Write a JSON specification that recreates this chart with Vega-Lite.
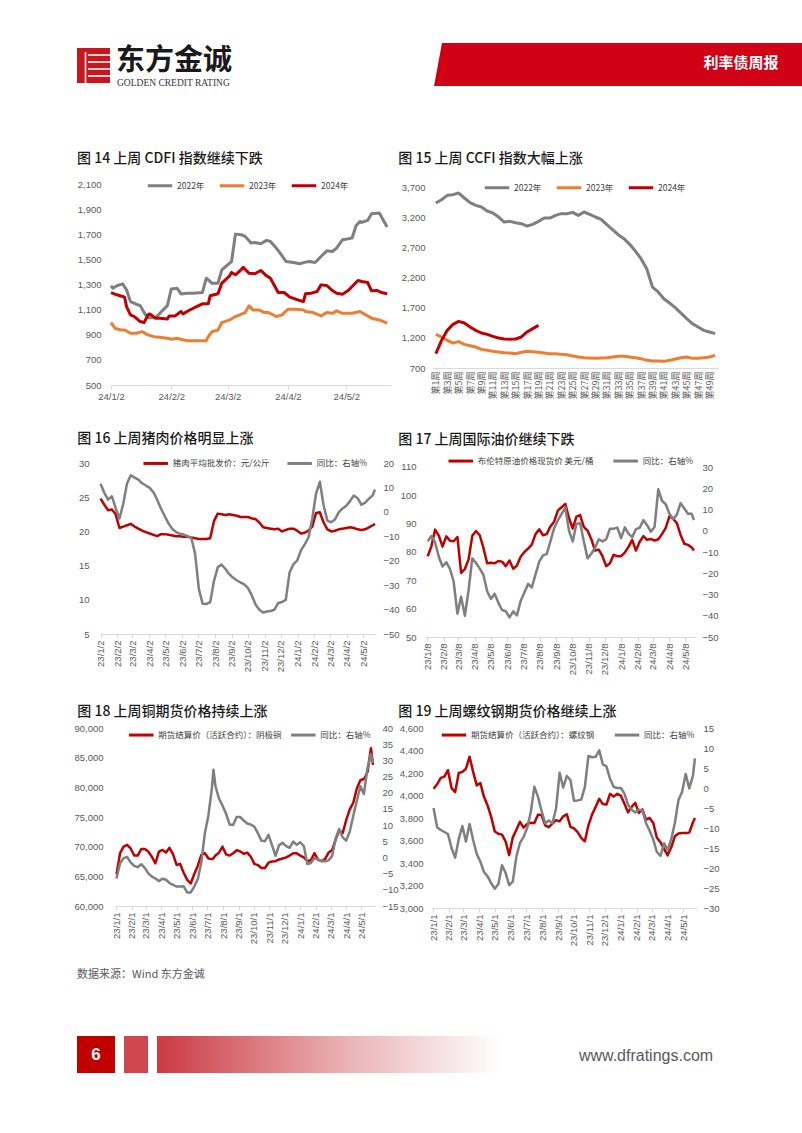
{
"$schema": "https://vega.github.io/schema/vega-lite/v6.json",
"padding": 0,
"background": "white",
"spacing": 0,
"resolve": {"scale": {"color": "independent"}, "legend": {"color": "independent"}},
"config": {
 "view": {"stroke": null},
 "axis": {"grid": false, "labelColor": "#595959", "labelFont": "Liberation Sans", "labelFontSize": 9.5, "domainColor": "#d9d9d9", "tickColor": "#d9d9d9", "labelOverlap": false, "labelFlush": false},
 "axisX": {"tickSize": 4},
 "axisY": {"domain": false, "ticks": false},
 "legend": {"orient": "none", "direction": "horizontal", "symbolType": "stroke", "symbolStrokeWidth": 3, "symbolSize": 600, "labelFontSize": 8.5, "labelFont": "Noto Sans CJK SC", "labelColor": "#404040", "labelOffset": 3, "padding": 0},
 "title": {"anchor": "start", "frame": "group", "fontSize": 14, "font": "Noto Sans CJK SC", "fontWeight": 500, "color": "#1a1a1a", "baseline": "bottom"},
 "line": {"strokeJoin": "round"}
},
"datasets": {
 "cdfi": [
  {"d":"2024-01-02","s":"2022年","v":1290},{"d":"2024-01-03","s":"2022年","v":1270},{"d":"2024-01-05","s":"2022年","v":1290},{"d":"2024-01-08","s":"2022年","v":1305},{"d":"2024-01-10","s":"2022年","v":1257},{"d":"2024-01-12","s":"2022年","v":1164},{"d":"2024-01-15","s":"2022年","v":1143},{"d":"2024-01-17","s":"2022年","v":1132},{"d":"2024-01-19","s":"2022年","v":1077},{"d":"2024-01-21","s":"2022年","v":1035},{"d":"2024-01-25","s":"2022年","v":1035},{"d":"2024-01-28","s":"2022年","v":1085},{"d":"2024-01-31","s":"2022年","v":1132},{"d":"2024-02-02","s":"2022年","v":1265},{"d":"2024-02-05","s":"2022年","v":1270},{"d":"2024-02-07","s":"2022年","v":1225},{"d":"2024-02-10","s":"2022年","v":1230},{"d":"2024-02-13","s":"2022年","v":1230},{"d":"2024-02-18","s":"2022年","v":1236},{"d":"2024-02-20","s":"2022年","v":1350},{"d":"2024-02-23","s":"2022年","v":1310},{"d":"2024-02-26","s":"2022年","v":1310},{"d":"2024-02-28","s":"2022年","v":1417},{"d":"2024-03-04","s":"2022年","v":1483},{"d":"2024-03-06","s":"2022年","v":1701},{"d":"2024-03-09","s":"2022年","v":1696},{"d":"2024-03-11","s":"2022年","v":1683},{"d":"2024-03-14","s":"2022年","v":1630},{"d":"2024-03-16","s":"2022年","v":1635},{"d":"2024-03-19","s":"2022年","v":1624},{"d":"2024-03-22","s":"2022年","v":1651},{"d":"2024-03-24","s":"2022年","v":1643},{"d":"2024-03-27","s":"2022年","v":1590},{"d":"2024-03-29","s":"2022年","v":1550},{"d":"2024-04-01","s":"2022年","v":1483},{"d":"2024-04-05","s":"2022年","v":1475},{"d":"2024-04-08","s":"2022年","v":1465},{"d":"2024-04-11","s":"2022年","v":1478},{"d":"2024-04-13","s":"2022年","v":1483},{"d":"2024-04-16","s":"2022年","v":1475},{"d":"2024-04-19","s":"2022年","v":1523},{"d":"2024-04-22","s":"2022年","v":1568},{"d":"2024-04-25","s":"2022年","v":1563},{"d":"2024-04-27","s":"2022年","v":1590},{"d":"2024-04-30","s":"2022年","v":1656},{"d":"2024-05-02","s":"2022年","v":1661},{"d":"2024-05-05","s":"2022年","v":1670},{"d":"2024-05-07","s":"2022年","v":1768},{"d":"2024-05-09","s":"2022年","v":1802},{"d":"2024-05-10","s":"2022年","v":1794},{"d":"2024-05-13","s":"2022年","v":1810},{"d":"2024-05-15","s":"2022年","v":1863},{"d":"2024-05-19","s":"2022年","v":1869},{"d":"2024-05-20","s":"2022年","v":1842},{"d":"2024-05-23","s":"2022年","v":1757},
  {"d":"2024-01-02","s":"2023年","v":997},{"d":"2024-01-04","s":"2023年","v":952},{"d":"2024-01-07","s":"2023年","v":938},{"d":"2024-01-09","s":"2023年","v":938},{"d":"2024-01-12","s":"2023年","v":912},{"d":"2024-01-15","s":"2023年","v":912},{"d":"2024-01-18","s":"2023年","v":925},{"d":"2024-01-21","s":"2023年","v":899},{"d":"2024-01-24","s":"2023年","v":885},{"d":"2024-01-27","s":"2023年","v":880},{"d":"2024-01-31","s":"2023年","v":872},{"d":"2024-02-02","s":"2023年","v":864},{"d":"2024-02-05","s":"2023年","v":872},{"d":"2024-02-07","s":"2023年","v":864},{"d":"2024-02-10","s":"2023年","v":853},{"d":"2024-02-15","s":"2023年","v":853},{"d":"2024-02-20","s":"2023年","v":853},{"d":"2024-02-21","s":"2023年","v":885},{"d":"2024-02-23","s":"2023年","v":925},{"d":"2024-02-26","s":"2023年","v":938},{"d":"2024-02-28","s":"2023年","v":997},{"d":"2024-03-03","s":"2023年","v":1018},{"d":"2024-03-06","s":"2023年","v":1045},{"d":"2024-03-10","s":"2023年","v":1071},{"d":"2024-03-11","s":"2023年","v":1077},{"d":"2024-03-13","s":"2023年","v":1130},{"d":"2024-03-15","s":"2023年","v":1098},{"d":"2024-03-18","s":"2023年","v":1098},{"d":"2024-03-21","s":"2023年","v":1077},{"d":"2024-03-23","s":"2023年","v":1077},{"d":"2024-03-27","s":"2023年","v":1045},{"d":"2024-03-30","s":"2023年","v":1058},{"d":"2024-04-02","s":"2023年","v":1103},{"d":"2024-04-06","s":"2023年","v":1103},{"d":"2024-04-10","s":"2023年","v":1098},{"d":"2024-04-11","s":"2023年","v":1085},{"d":"2024-04-15","s":"2023年","v":1077},{"d":"2024-04-19","s":"2023年","v":1050},{"d":"2024-04-22","s":"2023年","v":1077},{"d":"2024-04-25","s":"2023年","v":1071},{"d":"2024-04-27","s":"2023年","v":1090},{"d":"2024-04-30","s":"2023年","v":1071},{"d":"2024-05-05","s":"2023年","v":1071},{"d":"2024-05-09","s":"2023年","v":1085},{"d":"2024-05-12","s":"2023年","v":1058},{"d":"2024-05-15","s":"2023年","v":1032},{"d":"2024-05-19","s":"2023年","v":1018},{"d":"2024-05-23","s":"2023年","v":992},
  {"d":"2024-01-02","s":"2024年","v":1236},{"d":"2024-01-05","s":"2024年","v":1218},{"d":"2024-01-08","s":"2024年","v":1204},{"d":"2024-01-09","s":"2024年","v":1199},{"d":"2024-01-10","s":"2024年","v":1124},{"d":"2024-01-12","s":"2024年","v":1058},{"d":"2024-01-14","s":"2024年","v":1045},{"d":"2024-01-17","s":"2024年","v":1005},{"d":"2024-01-19","s":"2024年","v":997},{"d":"2024-01-21","s":"2024年","v":1058},{"d":"2024-01-22","s":"2024年","v":1066},{"d":"2024-01-25","s":"2024年","v":1032},{"d":"2024-01-27","s":"2024年","v":1032},{"d":"2024-01-31","s":"2024年","v":1026},{"d":"2024-02-01","s":"2024年","v":1050},{"d":"2024-02-04","s":"2024年","v":1050},{"d":"2024-02-07","s":"2024年","v":1085},{"d":"2024-02-08","s":"2024年","v":1066},{"d":"2024-02-11","s":"2024年","v":1093},{"d":"2024-02-15","s":"2024年","v":1124},{"d":"2024-02-18","s":"2024年","v":1146},{"d":"2024-02-21","s":"2024年","v":1146},{"d":"2024-02-22","s":"2024年","v":1210},{"d":"2024-02-26","s":"2024年","v":1226},{"d":"2024-02-28","s":"2024年","v":1311},{"d":"2024-03-03","s":"2024年","v":1369},{"d":"2024-03-04","s":"2024年","v":1396},{"d":"2024-03-06","s":"2024年","v":1377},{"d":"2024-03-08","s":"2024年","v":1404},{"d":"2024-03-10","s":"2024年","v":1436},{"d":"2024-03-13","s":"2024年","v":1390},{"d":"2024-03-16","s":"2024年","v":1385},{"d":"2024-03-19","s":"2024年","v":1412},{"d":"2024-03-22","s":"2024年","v":1369},{"d":"2024-03-24","s":"2024年","v":1350},{"d":"2024-03-28","s":"2024年","v":1236},{"d":"2024-03-31","s":"2024年","v":1236},{"d":"2024-04-03","s":"2024年","v":1199},{"d":"2024-04-06","s":"2024年","v":1183},{"d":"2024-04-10","s":"2024年","v":1164},{"d":"2024-04-11","s":"2024年","v":1226},{"d":"2024-04-14","s":"2024年","v":1231},{"d":"2024-04-17","s":"2024年","v":1244},{"d":"2024-04-19","s":"2024年","v":1297},{"d":"2024-04-22","s":"2024年","v":1292},{"d":"2024-04-25","s":"2024年","v":1250},{"d":"2024-04-27","s":"2024年","v":1231},{"d":"2024-04-30","s":"2024年","v":1223},{"d":"2024-05-03","s":"2024年","v":1252},{"d":"2024-05-05","s":"2024年","v":1284},{"d":"2024-05-08","s":"2024年","v":1332},{"d":"2024-05-10","s":"2024年","v":1324},{"d":"2024-05-13","s":"2024年","v":1316},{"d":"2024-05-15","s":"2024年","v":1250},{"d":"2024-05-18","s":"2024年","v":1252},{"d":"2024-05-20","s":"2024年","v":1236},{"d":"2024-05-23","s":"2024年","v":1226}
 ],
 "ccfi": [
  {"n":1,"w":"第1周","2022年":3435,"2023年":1258,"2024年":937},{"n":2,"w":"第2周","2022年":3490,"2023年":1214,"2024年":1158},{"n":3,"w":"第3周","2022年":3562,"2023年":1158,"2024年":1324},{"n":4,"w":"第4周","2022年":3573,"2023年":1114,"2024年":1424},{"n":5,"w":"第5周","2022年":3600,"2023年":1137,"2024年":1473},{"n":6,"w":"第6周","2022年":3518,"2023年":1092,"2024年":1446},{"n":7,"w":"第7周","2022年":3440,"2023年":1070,"2024年":1380},{"n":8,"w":"第8周","2022年":3396,"2023年":1048,"2024年":1324},{"n":9,"w":"第9周","2022年":3368,"2023年":1009,"2024年":1280},{"n":10,"w":"第10周","2022年":3302,"2023年":993,"2024年":1258},{"n":11,"w":"第11周","2022年":3269,"2023年":976,"2024年":1225},{"n":12,"w":"第12周","2022年":3203,"2023年":965,"2024年":1197},{"n":13,"w":"第13周","2022年":3120,"2023年":954,"2024年":1181},{"n":14,"w":"第14周","2022年":3131,"2023年":948,"2024年":1175},{"n":15,"w":"第15周","2022年":3109,"2023年":937,"2024年":1181},{"n":16,"w":"第16周","2022年":3092,"2023年":960,"2024年":1214},{"n":17,"w":"第17周","2022年":3053,"2023年":976,"2024年":1297},{"n":18,"w":"第18周","2022年":3081,"2023年":970,"2024年":1352},{"n":19,"w":"第19周","2022年":3131,"2023年":960,"2024年":1407},{"n":20,"w":"第20周","2022年":3186,"2023年":948},{"n":21,"w":"第21周","2022年":3186,"2023年":937},{"n":22,"w":"第22周","2022年":3230,"2023年":937},{"n":23,"w":"第23周","2022年":3258,"2023年":926},{"n":24,"w":"第24周","2022年":3258,"2023年":921},{"n":25,"w":"第25周","2022年":3280,"2023年":899},{"n":26,"w":"第26周","2022年":3230,"2023年":882},{"n":27,"w":"第27周","2022年":3286,"2023年":871},{"n":28,"w":"第28周","2022年":3247,"2023年":866},{"n":29,"w":"第29周","2022年":3203,"2023年":860},{"n":30,"w":"第30周","2022年":3164,"2023年":866},{"n":31,"w":"第31周","2022年":3076,"2023年":871},{"n":32,"w":"第32周","2022年":2993,"2023年":882},{"n":33,"w":"第33周","2022年":2910,"2023年":893},{"n":34,"w":"第34周","2022年":2844,"2023年":893},{"n":35,"w":"第35周","2022年":2750,"2023年":882},{"n":36,"w":"第36周","2022年":2639,"2023年":871},{"n":37,"w":"第37周","2022年":2512,"2023年":855},{"n":38,"w":"第38周","2022年":2346,"2023年":827},{"n":39,"w":"第39周","2022年":2042,"2023年":816},{"n":40,"w":"第40周","2022年":1960,"2023年":816},{"n":41,"w":"第41周","2022年":1849,"2023年":810},{"n":42,"w":"第42周","2022年":1777,"2023年":827},{"n":43,"w":"第43周","2022年":1700,"2023年":849},{"n":44,"w":"第44周","2022年":1611,"2023年":871},{"n":45,"w":"第45周","2022年":1518,"2023年":882},{"n":46,"w":"第46周","2022年":1435,"2023年":860},{"n":47,"w":"第47周","2022年":1380,"2023年":860},{"n":48,"w":"第48周","2022年":1324,"2023年":871},{"n":49,"w":"第49周","2022年":1297,"2023年":882},{"n":50,"w":"第50周","2022年":1269,"2023年":910}
 ],
 "daily": [
  {"d":"2023-01-02","pork":24.8,"porkYoy":11.5,"cu":65300,"cuYoy":-6.5,"rb":4060,"rbYoy":-5.0},
  {"d":"2023-01-09","pork":23.9,"porkYoy":7.8,"brent":78.5,"brentYoy":-5.0,"cu":68900,"cuYoy":-1.8,"rb":4100,"rbYoy":-9.8},
  {"d":"2023-01-16","pork":23.1,"porkYoy":5.0,"brent":82.0,"brentYoy":-2.5,"cu":70000,"cuYoy":-0.2,"rb":4157,"rbYoy":-10.5},
  {"d":"2023-01-23","pork":23.2,"porkYoy":6.4,"brent":87.9,"brentYoy":-5.4,"cu":70300,"cuYoy":0.2,"rb":4168,"rbYoy":-11.0},
  {"d":"2023-01-30","pork":22.5,"porkYoy":1.5,"brent":85.8,"brentYoy":-12.2,"cu":69700,"cuYoy":-1.5,"rb":4225,"rbYoy":-11.5},
  {"d":"2023-02-06","pork":20.5,"porkYoy":-2.7,"brent":81.9,"brentYoy":-16.8,"cu":68500,"cuYoy":-2.6,"rb":4066,"rbYoy":-15.0},
  {"d":"2023-02-13","pork":20.7,"porkYoy":3.2,"brent":85.5,"brentYoy":-14.8,"cu":68500,"cuYoy":-3.0,"rb":4030,"rbYoy":-17.4},
  {"d":"2023-02-20","pork":20.9,"porkYoy":11.6,"brent":84.0,"brentYoy":-18.0,"cu":69600,"cuYoy":-2.1,"rb":4200,"rbYoy":-12.8},
  {"d":"2023-02-27","pork":21.1,"porkYoy":15.0,"brent":83.8,"brentYoy":-24.0,"cu":69600,"cuYoy":-3.2,"rb":4210,"rbYoy":-9.5},
  {"d":"2023-03-06","pork":20.7,"porkYoy":14.0,"brent":85.3,"brentYoy":-39.0,"cu":69170,"cuYoy":-4.9,"rb":4238,"rbYoy":-13.4},
  {"d":"2023-03-13","pork":20.4,"porkYoy":13.2,"brent":72.6,"brentYoy":-31.0,"cu":68300,"cuYoy":-5.9,"rb":4345,"rbYoy":-9.0},
  {"d":"2023-03-20","pork":20.1,"porkYoy":11.7,"brent":74.0,"brentYoy":-40.0,"cu":67200,"cuYoy":-6.5,"rb":4210,"rbYoy":-13.0},
  {"d":"2023-03-27","pork":19.9,"porkYoy":10.8,"brent":77.4,"brentYoy":-28.0,"cu":69170,"cuYoy":-7.3,"rb":4090,"rbYoy":-16.5},
  {"d":"2023-04-03","pork":19.7,"porkYoy":9.8,"brent":85.7,"brentYoy":-13.0,"cu":69450,"cuYoy":-6.6,"rb":4110,"rbYoy":-18.4},
  {"d":"2023-04-10","pork":19.5,"porkYoy":8.0,"brent":87.4,"brentYoy":-15.2,"cu":69000,"cuYoy":-6.9,"rb":3988,"rbYoy":-21.0},
  {"d":"2023-04-17","pork":19.3,"porkYoy":4.9,"brent":85.9,"brentYoy":-17.8,"cu":69800,"cuYoy":-7.9,"rb":3912,"rbYoy":-22.1},
  {"d":"2023-04-24","pork":19.6,"porkYoy":1.3,"brent":81.4,"brentYoy":-20.8,"cu":68700,"cuYoy":-8.5,"rb":3810,"rbYoy":-23.8},
  {"d":"2023-05-01","pork":19.6,"porkYoy":-1.8,"brent":76.0,"brentYoy":-28.5,"cu":66920,"cuYoy":-9.0,"rb":3680,"rbYoy":-25.2},
  {"d":"2023-05-08","pork":19.5,"porkYoy":-4.8,"brent":76.2,"brentYoy":-32.1,"cu":67100,"cuYoy":-9.0,"rb":3660,"rbYoy":-24.0},
  {"d":"2023-05-15","pork":19.4,"porkYoy":-7.0,"brent":76.0,"brentYoy":-29.6,"cu":65600,"cuYoy":-8.9,"rb":3652,"rbYoy":-19.3},
  {"d":"2023-05-22","pork":19.3,"porkYoy":-8.3,"brent":76.8,"brentYoy":-33.8,"cu":64400,"cuYoy":-10.8,"rb":3593,"rbYoy":-21.2},
  {"d":"2023-05-29","pork":19.3,"porkYoy":-9.0,"brent":76.6,"brentYoy":-37.3,"cu":63800,"cuYoy":-10.8,"rb":3470,"rbYoy":-24.3},
  {"d":"2023-06-05","pork":19.2,"porkYoy":-9.3,"brent":75.0,"brentYoy":-37.8,"cu":65400,"cuYoy":-9.0,"rb":3628,"rbYoy":-23.4},
  {"d":"2023-06-12","pork":19.2,"porkYoy":-9.9,"brent":77.0,"brentYoy":-40.8,"cu":66800,"cuYoy":-6.7,"rb":3695,"rbYoy":-17.1},
  {"d":"2023-06-19","pork":19.1,"porkYoy":-10.6,"brent":74.1,"brentYoy":-37.9,"cu":68600,"cuYoy":-1.5,"rb":3766,"rbYoy":-13.7},
  {"d":"2023-06-26","pork":19.0,"porkYoy":-17.0,"brent":75.2,"brentYoy":-39.8,"cu":68900,"cuYoy":7.5,"rb":3715,"rbYoy":-12.2},
  {"d":"2023-07-03","pork":18.9,"porkYoy":-31.5,"brent":78.3,"brentYoy":-33.0,"cu":68000,"cuYoy":13.0,"rb":3748,"rbYoy":-10.0},
  {"d":"2023-07-10","pork":18.9,"porkYoy":-37.6,"brent":80.0,"brentYoy":-29.0,"cu":67900,"cuYoy":21.5,"rb":3757,"rbYoy":-6.0},
  {"d":"2023-07-13","cu":68050,"cuYoy":27.1},
  {"d":"2023-07-17","pork":18.9,"porkYoy":-37.7,"brent":81.2,"brentYoy":-25.0,"cu":68500,"cuYoy":22.0,"rb":3755,"rbYoy":0.3},
  {"d":"2023-07-24","pork":19.0,"porkYoy":-37.0,"brent":82.6,"brentYoy":-26.7,"cu":69000,"cuYoy":18.2,"rb":3830,"rbYoy":-2.2},
  {"d":"2023-07-31","pork":21.5,"porkYoy":-28.3,"brent":86.3,"brentYoy":-20.5,"cu":70000,"cuYoy":16.0,"rb":3826,"rbYoy":-5.8},
  {"d":"2023-08-07","pork":22.6,"porkYoy":-22.7,"brent":88.0,"brentYoy":-14.5,"cu":68700,"cuYoy":13.5,"rb":3735,"rbYoy":-8.8},
  {"d":"2023-08-14","pork":22.5,"porkYoy":-21.6,"brent":85.9,"brentYoy":-11.6,"cu":68500,"cuYoy":10.2,"rb":3718,"rbYoy":-8.1},
  {"d":"2023-08-21","pork":22.4,"porkYoy":-23.3,"brent":86.3,"brentYoy":-11.0,"cu":68900,"cuYoy":10.0,"rb":3750,"rbYoy":-8.8},
  {"d":"2023-08-28","pork":22.5,"porkYoy":-25.4,"brent":89.0,"brentYoy":-5.0,"cu":69400,"cuYoy":12.5,"rb":3781,"rbYoy":-5.2},
  {"d":"2023-09-04","pork":22.4,"porkYoy":-26.9,"brent":90.7,"brentYoy":1.2,"cu":69200,"cuYoy":12.5,"rb":3770,"rbYoy":3.8},
  {"d":"2023-09-11","pork":22.3,"porkYoy":-28.0,"brent":94.6,"brentYoy":4.9,"cu":68800,"cuYoy":11.4,"rb":3815,"rbYoy":0.1},
  {"d":"2023-09-18","pork":22.1,"porkYoy":-28.9,"brent":95.8,"brentYoy":7.8,"cu":69000,"cuYoy":10.5,"rb":3832,"rbYoy":3.0},
  {"d":"2023-09-25","pork":22.1,"porkYoy":-29.7,"brent":97.0,"brentYoy":11.0,"cu":68300,"cuYoy":10.2,"rb":3722,"rbYoy":2.0},
  {"d":"2023-10-02","pork":22.1,"porkYoy":-31.2,"brent":92.0,"brentYoy":0.0,"cu":67100,"cuYoy":9.5,"rb":3707,"rbYoy":-3.2},
  {"d":"2023-10-09","pork":21.9,"porkYoy":-34.2,"brent":88.3,"brentYoy":-5.0,"cu":66900,"cuYoy":7.5,"rb":3675,"rbYoy":-3.1},
  {"d":"2023-10-16","pork":21.8,"porkYoy":-37.9,"brent":92.5,"brentYoy":3.3,"cu":66400,"cuYoy":5.2,"rb":3624,"rbYoy":-2.9},
  {"d":"2023-10-23","pork":21.3,"porkYoy":-40.1,"brent":93.0,"brentYoy":3.5,"cu":66400,"cuYoy":5.0,"rb":3593,"rbYoy":0.2},
  {"d":"2023-10-30","pork":20.6,"porkYoy":-41.2,"brent":88.8,"brentYoy":-5.0,"cu":67300,"cuYoy":7.0,"rb":3735,"rbYoy":8.0},
  {"d":"2023-11-06","pork":20.5,"porkYoy":-40.8,"brent":87.5,"brentYoy":-13.0,"cu":67500,"cuYoy":3.8,"rb":3830,"rbYoy":7.7},
  {"d":"2023-11-13","pork":20.4,"porkYoy":-40.6,"brent":84.5,"brentYoy":-10.8,"cu":67550,"cuYoy":0.5,"rb":3900,"rbYoy":7.8},
  {"d":"2023-11-20","pork":20.3,"porkYoy":-40.0,"brent":80.5,"brentYoy":-8.0,"cu":67850,"cuYoy":3.8,"rb":3970,"rbYoy":9.4},
  {"d":"2023-11-27","pork":20.4,"porkYoy":-37.3,"brent":80.8,"brentYoy":-4.0,"cu":68000,"cuYoy":4.5,"rb":3925,"rbYoy":5.9},
  {"d":"2023-12-04","pork":20.0,"porkYoy":-36.9,"brent":78.5,"brentYoy":-5.0,"cu":68200,"cuYoy":3.5,"rb":3919,"rbYoy":5.4},
  {"d":"2023-12-11","pork":20.2,"porkYoy":-36.0,"brent":75.0,"brentYoy":-4.0,"cu":68500,"cuYoy":3.0,"rb":4015,"rbYoy":2.3},
  {"d":"2023-12-18","pork":20.4,"porkYoy":-24.8,"brent":76.0,"brentYoy":1.0,"cu":68880,"cuYoy":4.9,"rb":3990,"rbYoy":0.3},
  {"d":"2023-12-25","pork":20.4,"porkYoy":-21.5,"brent":79.0,"brentYoy":1.0,"cu":68870,"cuYoy":3.9,"rb":4015,"rbYoy":0.0},
  {"d":"2024-01-01","pork":20.1,"porkYoy":-20.0,"brent":78.5,"brentYoy":1.5,"cu":68500,"cuYoy":4.7,"rb":3998,"rbYoy":0.0},
  {"d":"2024-01-08","pork":19.7,"porkYoy":-15.8,"brent":78.5,"brentYoy":-3.5,"cu":68200,"cuYoy":3.5,"rb":3927,"rbYoy":-1.4},
  {"d":"2024-01-15","pork":19.8,"porkYoy":-13.3,"brent":79.8,"brentYoy":1.6,"cu":67600,"cuYoy":-2.0,"rb":3850,"rbYoy":-4.2},
  {"d":"2024-01-22","pork":20.1,"porkYoy":-10.5,"brent":81.8,"brentYoy":-1.3,"cu":67700,"cuYoy":-1.7,"rb":3900,"rbYoy":-5.4},
  {"d":"2024-01-29","pork":20.7,"porkYoy":-2.7,"brent":84.3,"brentYoy":-3.0,"cu":68900,"cuYoy":-0.2,"rb":3935,"rbYoy":-6.1},
  {"d":"2024-02-05","pork":22.7,"porkYoy":7.5,"brent":80.5,"brentYoy":0.8,"cu":67800,"cuYoy":-0.6,"rb":3845,"rbYoy":-5.4},
  {"d":"2024-02-12","pork":22.8,"porkYoy":12.3,"brent":83.6,"brentYoy":1.4,"cu":67550,"cuYoy":-1.1,"rb":3877,"rbYoy":-5.6},
  {"d":"2024-02-19","pork":21.3,"porkYoy":2.6,"brent":85.6,"brentYoy":5.0,"cu":67900,"cuYoy":-1.2,"rb":3785,"rbYoy":-8.8},
  {"d":"2024-02-26","pork":20.3,"porkYoy":-3.6,"brent":84.3,"brentYoy":2.6,"cu":69000,"cuYoy":-0.9,"rb":3800,"rbYoy":-10.7},
  {"d":"2024-03-04","pork":20.0,"porkYoy":-4.3,"brent":84.6,"brentYoy":-0.4,"cu":69400,"cuYoy":0.4,"rb":3755,"rbYoy":-12.9},
  {"d":"2024-03-11","pork":20.1,"porkYoy":-3.1,"brent":84.0,"brentYoy":1.8,"cu":71200,"cuYoy":5.8,"rb":3625,"rbYoy":-16.0},
  {"d":"2024-03-18","pork":20.3,"porkYoy":-0.2,"brent":84.5,"brentYoy":19.5,"cu":72700,"cuYoy":8.8,"rb":3585,"rbYoy":-17.0},
  {"d":"2024-03-25","pork":20.4,"porkYoy":1.4,"brent":86.3,"brentYoy":14.1,"cu":72300,"cuYoy":6.2,"rb":3525,"rbYoy":-13.8},
  {"d":"2024-04-01","pork":20.5,"porkYoy":2.5,"brent":88.5,"brentYoy":12.5,"cu":74500,"cuYoy":5.2,"rb":3468,"rbYoy":-15.5},
  {"d":"2024-04-08","pork":20.6,"porkYoy":4.5,"brent":92.6,"brentYoy":8.0,"cu":76300,"cuYoy":8.0,"rb":3540,"rbYoy":-12.8},
  {"d":"2024-04-15","pork":20.5,"porkYoy":6.7,"brent":91.7,"brentYoy":5.5,"cu":77400,"cuYoy":12.9,"rb":3637,"rbYoy":-8.7},
  {"d":"2024-04-22","pork":20.3,"porkYoy":5.6,"brent":90.2,"brentYoy":7.6,"cu":79800,"cuYoy":17.5,"rb":3663,"rbYoy":-3.0},
  {"d":"2024-04-29","pork":20.2,"porkYoy":2.9,"brent":86.0,"brentYoy":13.0,"cu":81200,"cuYoy":22.0,"rb":3667,"rbYoy":-1.0},
  {"d":"2024-05-06","pork":20.3,"porkYoy":3.8,"brent":82.9,"brentYoy":10.5,"cu":81400,"cuYoy":19.6,"rb":3667,"rbYoy":3.5},
  {"d":"2024-05-13","pork":20.6,"porkYoy":5.4,"brent":82.5,"brentYoy":8.0,"cu":82500,"cuYoy":27.5,"rb":3670,"rbYoy":-0.1},
  {"d":"2024-05-20","pork":20.9,"porkYoy":6.8,"brent":81.6,"brentYoy":8.0,"cu":86600,"cuYoy":32.0,"rb":3760,"rbYoy":3.0},
  {"d":"2024-05-24","pork":21.1,"porkYoy":9.1,"brent":80.5,"brentYoy":5.0,"cu":83800,"cuYoy":29.2,"rb":3800,"rbYoy":7.4}
 ]
},
"vconcat": [
 {
  "width": 802, "height": 151,
  "encoding": {
   "x": {"field": "x", "type": "quantitative", "scale": {"domain": [0, 802], "nice": false, "zero": false}, "axis": null},
   "y": {"field": "y", "type": "quantitative", "scale": {"domain": [0, 151], "nice": false, "zero": false, "reverse": true}, "axis": null}
  },
  "layer": [
   {"data": {"values": [{"x": 77, "x2": 110, "y": 48, "y2": 83}]}, "mark": {"type": "rect", "color": "#c8161d"}, "encoding": {"x2": {"field": "x2"}, "y2": {"field": "y2"}}},
   {"data": {"values": [{"x": 85.5, "x2": 85.5, "y": 52, "y2": 83}, {"x": 88, "x2": 110, "y": 55, "y2": 55}, {"x": 88, "x2": 110, "y": 62, "y2": 62}, {"x": 88, "x2": 110, "y": 69, "y2": 69}, {"x": 88, "x2": 110, "y": 76, "y2": 76}]}, "mark": {"type": "rule", "color": "white", "strokeWidth": 1.6}, "encoding": {"x2": {"field": "x2"}, "y2": {"field": "y2"}}},
   {"data": {"values": [{"x": 116, "y": 60.5, "t": "东方金诚"}]}, "mark": {"type": "text", "align": "left", "baseline": "middle", "fontSize": 29, "fontWeight": "bold", "font": "Noto Sans CJK SC", "color": "#1a1a1a"}, "encoding": {"text": {"field": "t"}}},
   {"data": {"values": [{"x": 117, "y": 82.5, "t": "GOLDEN CREDIT RATING"}]}, "mark": {"type": "text", "align": "left", "baseline": "middle", "fontSize": 9.5, "font": "Liberation Serif", "color": "#333333"}, "encoding": {"text": {"field": "t"}}},
   {"data": {"values": [{"y": 43, "x": 442, "x2": 802}, {"y": 86, "x": 434, "x2": 802}]}, "mark": {"type": "area", "orient": "horizontal", "color": "#d10014"}, "encoding": {"x2": {"field": "x2"}}},
   {"data": {"values": [{"x": 741, "y": 63, "t": "利率债周报"}]}, "mark": {"type": "text", "align": "center", "baseline": "middle", "fontSize": 15, "fontWeight": "bold", "font": "Noto Sans CJK SC", "color": "white"}, "encoding": {"text": {"field": "t"}}}
  ]
 },
 {
  "resolve": {"scale": {"color": "independent"}, "legend": {"color": "independent"}},
  "hconcat": [
   {"width": 69, "height": 248, "data": {"values": []}, "mark": "text"},
   {
    "title": {"text": "图 14 上周 CDFI 指数继续下跌", "dx": -34, "offset": 5.2},
    "width": 280, "height": 201,
    "data": {"name": "cdfi"},
    "mark": {"type": "line", "strokeWidth": 3},
    "encoding": {
     "x": {"field": "d", "type": "temporal", "scale": {"type": "utc", "domain": [{"year": 2024, "month": 1, "date": 2, "utc": true}, {"year": 2024, "month": 5, "date": 25, "utc": true}]}, "axis": {"title": null, "format": "%y/%-m/%-d", "labelAngle": 0, "labelPadding": 2, "values": [{"year": 2024, "month": 1, "date": 2, "utc": true}, {"year": 2024, "month": 2, "date": 2, "utc": true}, {"year": 2024, "month": 3, "date": 2, "utc": true}, {"year": 2024, "month": 4, "date": 2, "utc": true}, {"year": 2024, "month": 5, "date": 2, "utc": true}]}},
     "y": {"field": "v", "type": "quantitative", "scale": {"domain": [500, 2100], "nice": false, "zero": false}, "axis": {"title": null, "values": [500, 700, 900, 1100, 1300, 1500, 1700, 1900, 2100], "format": ",.0f", "labelPadding": 10}},
     "color": {"field": "s", "type": "nominal", "scale": {"domain": ["2022年", "2023年", "2024年"], "range": ["#7f7f7f", "#ed7d31", "#c00000"]}, "legend": {"title": null, "legendX": 35, "legendY": -12.5, "columnPadding": 13}}
    }
   },
   {
    "title": {"text": "图 15 上周 CCFI 指数大幅上涨", "dx": -34.7, "offset": 7.9},
    "width": 285, "height": 184,
    "data": {"name": "ccfi"},
    "transform": [{"fold": ["2022年", "2023年", "2024年"], "as": ["s", "v"]}, {"filter": "isValid(datum.v)"}],
    "mark": {"type": "line", "strokeWidth": 3},
    "encoding": {
     "x": {"field": "w", "type": "ordinal", "scale": {"type": "point", "padding": 0.5, "domain": ["第1周","第2周","第3周","第4周","第5周","第6周","第7周","第8周","第9周","第10周","第11周","第12周","第13周","第14周","第15周","第16周","第17周","第18周","第19周","第20周","第21周","第22周","第23周","第24周","第25周","第26周","第27周","第28周","第29周","第30周","第31周","第32周","第33周","第34周","第35周","第36周","第37周","第38周","第39周","第40周","第41周","第42周","第43周","第44周","第45周","第46周","第47周","第48周","第49周","第50周"]}, "axis": {"title": null, "labelAngle": -90, "ticks": false, "labelFont": "Noto Sans CJK SC", "labelFontSize": 9, "labelPadding": 3, "values": ["第1周","第3周","第5周","第7周","第9周","第11周","第13周","第15周","第17周","第19周","第21周","第23周","第25周","第27周","第29周","第31周","第33周","第35周","第37周","第39周","第41周","第43周","第45周","第47周","第49周"]}},
     "y": {"field": "v", "type": "quantitative", "scale": {"domain": [700, 3750], "nice": false, "zero": false}, "axis": {"title": null, "values": [700, 1200, 1700, 2200, 2700, 3200, 3700], "format": ",.0f", "labelPadding": 8}},
     "order": {"field": "n", "type": "quantitative"},
     "color": {"field": "s", "type": "nominal", "scale": {"domain": ["2022年", "2023年", "2024年"], "range": ["#7f7f7f", "#ed7d31", "#c00000"]}, "legend": {"title": null, "legendX": 50, "legendY": -10.5, "columnPadding": 13}}
    }
   }
  ],
  "spacing": 42, "bounds": "flush"
 },
 {
  "resolve": {"scale": {"color": "independent"}, "legend": {"color": "independent"}},
  "hconcat": [
   {"width": 51, "height": 241.7, "data": {"values": []}, "mark": "text"},
   {
    "title": {"text": "图 16 上周猪肉价格明显上涨", "dx": -22.7, "offset": 2.9},
    "width": 276, "height": 171,
    "data": {"name": "daily"},
    "encoding": {"x": {"field": "d", "type": "temporal", "scale": {"type": "utc", "domain": [{"year": 2023, "month": 1, "date": 1, "utc": true}, {"year": 2024, "month": 5, "date": 26, "utc": true}]}, "axis": {"title": null, "format": "%y/%-m/%-d", "labelAngle": -90, "labelPadding": 2, "values": [{"year":2023,"month":1,"date":2,"utc":true},{"year":2023,"month":2,"date":2,"utc":true},{"year":2023,"month":3,"date":2,"utc":true},{"year":2023,"month":4,"date":2,"utc":true},{"year":2023,"month":5,"date":2,"utc":true},{"year":2023,"month":6,"date":2,"utc":true},{"year":2023,"month":7,"date":2,"utc":true},{"year":2023,"month":8,"date":2,"utc":true},{"year":2023,"month":9,"date":2,"utc":true},{"year":2023,"month":10,"date":2,"utc":true},{"year":2023,"month":11,"date":2,"utc":true},{"year":2023,"month":12,"date":2,"utc":true},{"year":2024,"month":1,"date":2,"utc":true},{"year":2024,"month":2,"date":2,"utc":true},{"year":2024,"month":3,"date":2,"utc":true},{"year":2024,"month":4,"date":2,"utc":true},{"year":2024,"month":5,"date":2,"utc":true}]}}},
    "layer": [
     {"transform": [{"filter": "isValid(datum.pork)"}], "mark": {"type": "line", "strokeWidth": 2.5}, "encoding": {"y": {"field": "pork", "type": "quantitative", "scale": {"domain": [5, 30], "nice": false, "zero": false}, "axis": {"title": null, "orient": "left", "values": [5, 10, 15, 20, 25, 30], "labelPadding": 11}}, "color": {"datum": "猪肉平均批发价：元/公斤", "type": "nominal", "scale": {"domain": ["猪肉平均批发价：元/公斤", "同比：右轴%"], "range": ["#c00000", "#7f7f7f"]}, "legend": {"title": null, "legendX": 41.7, "legendY": -13.8, "columnPadding": 16}}}},
     {"transform": [{"filter": "isValid(datum.porkYoy)"}], "mark": {"type": "line", "strokeWidth": 2.5}, "encoding": {"y": {"field": "porkYoy", "type": "quantitative", "scale": {"domain": [-50, 20], "nice": false, "zero": false}, "axis": {"title": null, "orient": "right", "values": [-50, -40, -30, -20, -10, 0, 10, 20], "labelPadding": 7}}, "color": {"datum": "同比：右轴%", "type": "nominal"}}}
    ],
    "resolve": {"scale": {"y": "independent"}}
   },
   {
    "title": {"text": "图 17 上周国际油价继续下跌", "dx": -26.7, "offset": 0.2},
    "width": 271, "height": 174,
    "data": {"name": "daily"},
    "encoding": {"x": {"field": "d", "type": "temporal", "scale": {"type": "utc", "domain": [{"year": 2023, "month": 1, "date": 4, "utc": true}, {"year": 2024, "month": 5, "date": 28, "utc": true}]}, "axis": {"title": null, "format": "%y/%-m/%-d", "labelAngle": -90, "labelPadding": 2, "values": [{"year":2023,"month":1,"date":8,"utc":true},{"year":2023,"month":2,"date":8,"utc":true},{"year":2023,"month":3,"date":8,"utc":true},{"year":2023,"month":4,"date":8,"utc":true},{"year":2023,"month":5,"date":8,"utc":true},{"year":2023,"month":6,"date":8,"utc":true},{"year":2023,"month":7,"date":8,"utc":true},{"year":2023,"month":8,"date":8,"utc":true},{"year":2023,"month":9,"date":8,"utc":true},{"year":2023,"month":10,"date":8,"utc":true},{"year":2023,"month":11,"date":8,"utc":true},{"year":2023,"month":12,"date":8,"utc":true},{"year":2024,"month":1,"date":8,"utc":true},{"year":2024,"month":2,"date":8,"utc":true},{"year":2024,"month":3,"date":8,"utc":true},{"year":2024,"month":4,"date":8,"utc":true},{"year":2024,"month":5,"date":8,"utc":true}]}}},
    "layer": [
     {"transform": [{"filter": "isValid(datum.brent)"}], "mark": {"type": "line", "strokeWidth": 2.5}, "encoding": {"y": {"field": "brent", "type": "quantitative", "scale": {"domain": [50, 111.4], "nice": false, "zero": false}, "axis": {"title": null, "orient": "left", "values": [50, 60, 70, 80, 90, 100, 110], "labelPadding": 9}}, "color": {"datum": "布伦特原油价格现货价 美元/桶", "type": "nominal", "scale": {"domain": ["布伦特原油价格现货价 美元/桶", "同比：右轴%"], "range": ["#c00000", "#7f7f7f"]}, "legend": {"title": null, "legendX": 21.7, "legendY": -16.2, "columnPadding": 18}}}},
     {"transform": [{"filter": "isValid(datum.brentYoy)"}], "mark": {"type": "line", "strokeWidth": 2.5}, "encoding": {"y": {"field": "brentYoy", "type": "quantitative", "scale": {"domain": [-50, 31.9], "nice": false, "zero": false}, "axis": {"title": null, "orient": "right", "values": [-50, -40, -30, -20, -10, 0, 10, 20, 30], "labelPadding": 6}}, "color": {"datum": "同比：右轴%", "type": "nominal"}}}
    ],
    "resolve": {"scale": {"y": "independent"}}
   }
  ],
  "spacing": 49, "bounds": "flush"
 },
 {
  "resolve": {"scale": {"color": "independent"}, "legend": {"color": "independent"}},
  "hconcat": [
   {"width": 58, "height": 227, "data": {"values": []}, "mark": "text"},
   {
    "title": {"text": "图 18 上周铜期货价格持续上涨", "dx": -37.7, "offset": 1.8},
    "width": 260, "height": 178,
    "data": {"name": "daily"},
    "encoding": {"x": {"field": "d", "type": "temporal", "scale": {"type": "utc", "domain": [{"year": 2022, "month": 12, "date": 30, "utc": true}, {"year": 2024, "month": 5, "date": 28, "utc": true}]}, "axis": {"title": null, "format": "%y/%-m/%-d", "labelAngle": -90, "labelPadding": 2, "values": [{"year":2023,"month":1,"date":1,"utc":true},{"year":2023,"month":2,"date":1,"utc":true},{"year":2023,"month":3,"date":1,"utc":true},{"year":2023,"month":4,"date":1,"utc":true},{"year":2023,"month":5,"date":1,"utc":true},{"year":2023,"month":6,"date":1,"utc":true},{"year":2023,"month":7,"date":1,"utc":true},{"year":2023,"month":8,"date":1,"utc":true},{"year":2023,"month":9,"date":1,"utc":true},{"year":2023,"month":10,"date":1,"utc":true},{"year":2023,"month":11,"date":1,"utc":true},{"year":2023,"month":12,"date":1,"utc":true},{"year":2024,"month":1,"date":1,"utc":true},{"year":2024,"month":2,"date":1,"utc":true},{"year":2024,"month":3,"date":1,"utc":true},{"year":2024,"month":4,"date":1,"utc":true},{"year":2024,"month":5,"date":1,"utc":true}]}}},
    "layer": [
     {"transform": [{"filter": "isValid(datum.cu)"}], "mark": {"type": "line", "strokeWidth": 2.5}, "encoding": {"y": {"field": "cu", "type": "quantitative", "scale": {"domain": [60000, 90000], "nice": false, "zero": false}, "axis": {"title": null, "orient": "left", "values": [60000, 65000, 70000, 75000, 80000, 85000, 90000], "format": ",.0f", "labelPadding": 12}}, "color": {"datum": "期货结算价（活跃合约）：阴极铜", "type": "nominal", "scale": {"domain": ["期货结算价（活跃合约）：阴极铜", "同比：右轴%"], "range": ["#c00000", "#7f7f7f"]}, "legend": {"title": null, "legendX": 12.3, "legendY": -7.2, "columnPadding": 7}}}},
     {"transform": [{"filter": "isValid(datum.cuYoy)"}], "mark": {"type": "line", "strokeWidth": 2.5}, "encoding": {"y": {"field": "cuYoy", "type": "quantitative", "scale": {"domain": [-15, 40], "nice": false, "zero": false}, "axis": {"title": null, "orient": "right", "values": [-15, -10, -5, 0, 5, 10, 15, 20, 25, 30, 35, 40], "labelPadding": 7}}, "color": {"datum": "同比：右轴%", "type": "nominal"}}}
    ],
    "resolve": {"scale": {"y": "independent"}}
   },
   {
    "title": {"text": "图 19 上周螺纹钢期货价格继续上涨", "dx": -33.7, "offset": 1.8},
    "width": 265, "height": 180,
    "data": {"name": "daily"},
    "encoding": {"x": {"field": "d", "type": "temporal", "scale": {"type": "utc", "domain": [{"year": 2022, "month": 12, "date": 30, "utc": true}, {"year": 2024, "month": 5, "date": 28, "utc": true}]}, "axis": {"title": null, "format": "%y/%-m/%-d", "labelAngle": -90, "labelPadding": 2, "values": [{"year":2023,"month":1,"date":1,"utc":true},{"year":2023,"month":2,"date":1,"utc":true},{"year":2023,"month":3,"date":1,"utc":true},{"year":2023,"month":4,"date":1,"utc":true},{"year":2023,"month":5,"date":1,"utc":true},{"year":2023,"month":6,"date":1,"utc":true},{"year":2023,"month":7,"date":1,"utc":true},{"year":2023,"month":8,"date":1,"utc":true},{"year":2023,"month":9,"date":1,"utc":true},{"year":2023,"month":10,"date":1,"utc":true},{"year":2023,"month":11,"date":1,"utc":true},{"year":2023,"month":12,"date":1,"utc":true},{"year":2024,"month":1,"date":1,"utc":true},{"year":2024,"month":2,"date":1,"utc":true},{"year":2024,"month":3,"date":1,"utc":true},{"year":2024,"month":4,"date":1,"utc":true},{"year":2024,"month":5,"date":1,"utc":true}]}}},
    "layer": [
     {"transform": [{"filter": "isValid(datum.rb)"}], "mark": {"type": "line", "strokeWidth": 2.5}, "encoding": {"y": {"field": "rb", "type": "quantitative", "scale": {"domain": [3000, 4600], "nice": false, "zero": false}, "axis": {"title": null, "orient": "left", "values": [3000, 3200, 3400, 3600, 3800, 4000, 4200, 4400, 4600], "format": ",.0f", "labelPadding": 9}}, "color": {"datum": "期货结算价（活跃合约）：螺纹钢", "type": "nominal", "scale": {"domain": ["期货结算价（活跃合约）：螺纹钢", "同比：右轴%"], "range": ["#c00000", "#7f7f7f"]}, "legend": {"title": null, "legendX": 8, "legendY": -7.2, "columnPadding": 18}}}},
     {"transform": [{"filter": "isValid(datum.rbYoy)"}], "mark": {"type": "line", "strokeWidth": 2.5}, "encoding": {"y": {"field": "rbYoy", "type": "quantitative", "scale": {"domain": [-30, 15], "nice": false, "zero": false}, "axis": {"title": null, "orient": "right", "values": [-30, -25, -20, -15, -10, -5, 0, 5, 10, 15], "labelPadding": 6}}, "color": {"datum": "同比：右轴%", "type": "nominal"}}}
    ],
    "resolve": {"scale": {"y": "independent"}}
   }
  ],
  "spacing": 57, "bounds": "flush"
 },
 {
  "width": 802, "height": 178,
  "encoding": {
   "x": {"field": "x", "type": "quantitative", "scale": {"domain": [0, 802], "nice": false, "zero": false}, "axis": null},
   "y": {"field": "y", "type": "quantitative", "scale": {"domain": [955, 1133], "nice": false, "zero": false, "reverse": true}, "axis": null}
  },
  "layer": [
   {"data": {"values": [{"x": 77, "y": 975, "t": "数据来源：Wind 东方金诚"}]}, "mark": {"type": "text", "align": "left", "baseline": "middle", "fontSize": 11, "font": "Noto Sans CJK SC", "color": "#595959"}, "encoding": {"text": {"field": "t"}}},
   {"data": {"values": [{"x": 77, "x2": 115, "y": 1036, "y2": 1073}]}, "mark": {"type": "rect", "color": "#c00000"}, "encoding": {"x2": {"field": "x2"}, "y2": {"field": "y2"}}},
   {"data": {"values": [{"x": 124, "x2": 148, "y": 1036, "y2": 1073}]}, "mark": {"type": "rect", "color": "#d0474f"}, "encoding": {"x2": {"field": "x2"}, "y2": {"field": "y2"}}},
   {"data": {"values": [{"x": 157, "x2": 501, "y": 1036, "y2": 1073}]}, "mark": {"type": "rect", "fill": {"gradient": "linear", "x1": 0, "x2": 1, "y1": 0, "y2": 0, "stops": [{"offset": 0, "color": "#cb3a43"}, {"offset": 0.55, "color": "#eab2b5"}, {"offset": 1, "color": "#ffffff"}]}}, "encoding": {"x2": {"field": "x2"}, "y2": {"field": "y2"}}},
   {"data": {"values": [{"x": 96, "y": 1055, "t": "6"}]}, "mark": {"type": "text", "align": "center", "baseline": "middle", "fontSize": 17, "fontWeight": "bold", "font": "Liberation Sans", "color": "white"}, "encoding": {"text": {"field": "t"}}},
   {"data": {"values": [{"x": 646, "y": 1056, "t": "www.dfratings.com"}]}, "mark": {"type": "text", "align": "center", "baseline": "middle", "fontSize": 16, "font": "Liberation Sans", "color": "#595959"}, "encoding": {"text": {"field": "t"}}}
  ]
 }
]
}
